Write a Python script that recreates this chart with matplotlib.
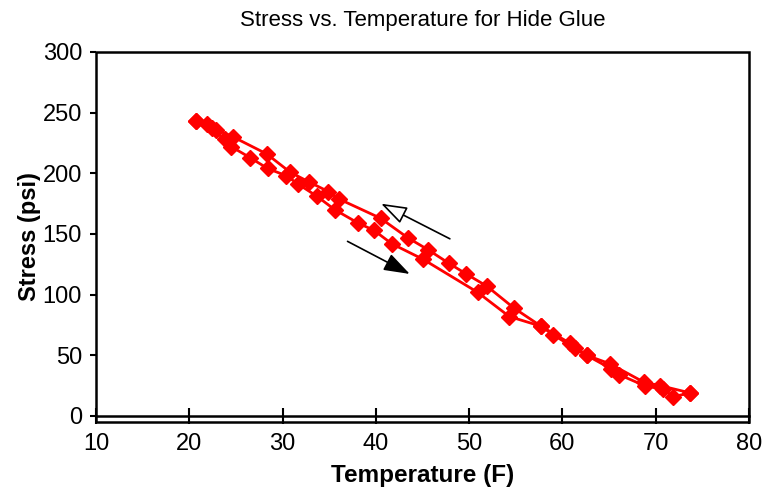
import matplotlib.pyplot as plt
from matplotlib.patches import Rectangle

plt.rcParams['font.family'] = ['Liberation Sans', 'DejaVu Sans']

# heating run (lower path), temperature in F and stress in psi
heat_temp = [20.7, 22.4, 23.8, 24.5, 26.5, 28.4, 30.4, 31.7, 33.7, 35.6, 38.1, 39.8,
             41.7, 45.1, 50.9, 54.3, 57.7, 60.8, 62.6, 65.2, 66.1, 68.8, 70.8, 71.9, 73.7]
heat_stress = [243, 237, 228, 222, 213, 204, 198, 191, 181, 170, 159, 153,
               142, 129, 102, 82, 74, 60, 50, 39, 34, 25, 22, 16, 19]

# cooling run (upper path)
cool_temp = [73.7, 70.5, 68.7, 65.1, 62.6, 61.3, 59.0, 57.7, 54.8, 51.9, 49.7, 47.8,
             45.6, 43.4, 40.5, 36.0, 34.9, 32.8, 30.8, 28.3, 24.7, 22.9, 21.9, 20.7]
cool_stress = [19, 25, 28, 43, 50, 56, 67, 74, 89, 107, 117, 126,
               137, 147, 163, 179, 185, 193, 201, 216, 230, 236, 241, 243]

fig = plt.figure(figsize=(7.64, 4.92), dpi=100)
ax = fig.add_axes([96 / 764, 70 / 492, 653 / 764, 370 / 492])

ax.plot(heat_temp, heat_stress, color='red', lw=2, marker='D', ms=8.3, mec='red', mfc='red')
ax.plot(cool_temp, cool_stress, color='red', lw=2, marker='D', ms=8.3, mec='red', mfc='red')

# direction arrows
ax.annotate('', xy=(40.3, 176), xytext=(48.2, 145),
            arrowprops=dict(arrowstyle='-|>,head_length=1.6,head_width=0.55',
                            fc='white', ec='black', lw=1.2))
ax.annotate('', xy=(43.9, 116), xytext=(36.7, 145),
            arrowprops=dict(arrowstyle='-|>,head_length=1.6,head_width=0.55',
                            fc='black', ec='black', lw=1.2))

ax.set_xlim(10, 80)
ax.set_ylim(-4.95, 300)
ax.set_xticks(range(10, 81, 10))
ax.set_yticks(range(0, 301, 50))

# x axis crosses at zero, frame drawn around the plot area
ax.spines['bottom'].set_position(('data', 0))
ax.spines['bottom'].set_linewidth(1.8)
for s in ['top', 'right', 'left']:
    ax.spines[s].set_visible(False)
ax.add_patch(Rectangle((0, 0), 1, 1, transform=ax.transAxes, fill=False,
                       ec='black', lw=1.8, clip_on=False, zorder=5))

ax.tick_params(axis='x', direction='inout', length=12, width=1.5, pad=6, labelsize=17)
ax.tick_params(axis='y', direction='out', length=4, width=1.5, pad=6, labelsize=17)

ax.set_xlabel('Temperature (F)', fontsize=17.5, fontweight='bold', labelpad=7)
ax.set_ylabel('Stress (psi)', fontsize=17, fontweight='bold', labelpad=1)
ax.set_title('Stress vs. Temperature for Hide Glue', fontsize=16, pad=19)

fig.savefig('out.png', dpi=100)
